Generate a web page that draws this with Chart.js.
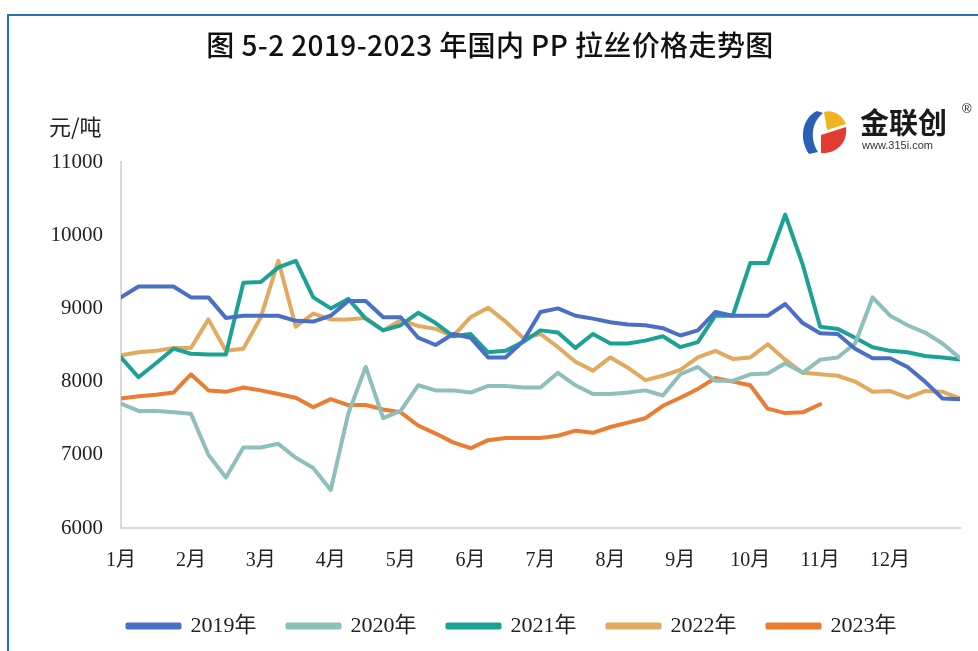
<!DOCTYPE html>
<html lang="zh">
<head>
  <meta charset="UTF-8">
  <title>2019-2023年国内PP拉丝价格走势图</title>
  <script src="https://cdn.jsdelivr.net/npm/chart.js"></script>
  <style>
    html, body {
      margin: 0;
      padding: 0;
      background: #ffffff;
    }

    #wrap {
      position: relative;
      width: 978px;
      height: 651px;
      overflow: hidden;
    }

    /* blue frame on top and left */
    #frame {
      position: absolute;
      left: 7px;
      top: 14px;
      width: 980px;
      height: 660px;
      border-top: 2px solid #1f72bd;
      border-left: 2px solid #1f72bd;
    }

    #title {
      position: absolute;
      left: 0;
      width: 980px;
      top: 24px;
      text-align: center;
      font-family: "Noto Sans CJK SC", sans-serif;
      font-size: 28px;
      font-weight: 500;
      color: #111;
      letter-spacing: 0.4px;
    }

    #unit {
      position: absolute;
      left: 49px;
      top: 109px;
      font-family: "Noto Sans CJK SC", sans-serif;
      font-size: 22px;
      color: #222;
    }

    #logo {
      position: absolute;
      left: 796px;
      top: 104px;
      width: 180px;
      height: 52px;
    }
    #logo svg {
      position: absolute;
      left: 0;
      top: 4px;
    }
    #logo .name {
      position: absolute;
      left: 64px;
      top: -4px;
      font-family: "Noto Sans CJK SC", sans-serif;
      font-weight: 700;
      font-size: 29px;
      color: #1a1a1a;
    }
    #logo .reg {
      position: absolute;
      left: 166px;
      top: -3px;
      font-family: "Liberation Sans", sans-serif;
      font-size: 13px;
      color: #222;
    }
    #logo .url {
      position: absolute;
      left: 66px;
      top: 35px;
      font-family: "Liberation Sans", sans-serif;
      font-size: 11px;
      color: #333;
    }

    canvas {
      position: absolute;
      left: 0;
      top: 0;
    }
  </style>
</head>
<body>
<div id="wrap">
  <div id="frame"></div>
  <!-- canvas is 3px wider than the window so the tick padding doesn't squeeze the plot -->
  <canvas id="myChart" width="981" height="651"></canvas>
  <div id="title">图 5-2 2019-2023 年国内 PP 拉丝价格走势图</div>
  <div id="unit">元/吨</div>
  <div id="logo">
    <svg width="52" height="48" viewBox="0 0 52 48">
      <path d="M21 3 C7 9 2 30 13 46 L22 44 C14 31 15 15 27 5 Z" fill="#2b5fb4"/>
      <path d="M28 4 C36 1 46 6 50 16 L31 22 C30 15 29 10 28 4 Z" fill="#f2b323"/>
      <path d="M25 27 L50 19 C52 34 41 46 25 45 Z" fill="#e23b30"/>
    </svg>
    <div class="name">金联创</div>
    <div class="reg">®</div>
    <div class="url">www.315i.com</div>
  </div>
</div>

<script>
  // month labels on the x axis
  const months = ['1月', '2月', '3月', '4月', '5月', '6月', '7月', '8月', '9月', '10月', '11月', '12月'];

  // values are read about 4 times per month (1st, ~8th, ~16th, ~23rd), last one = year end
  const perMonth = 4;

  const y2019 = [
    9150, 9300, 9300, 9300, 9150, 9150, 8870, 8900, 8900, 8900, 8830, 8820,
    8900, 9100, 9100, 8880, 8880, 8600, 8500, 8650, 8600, 8330, 8330, 8550,
    8950, 9000, 8900, 8860, 8810, 8780, 8770, 8730, 8630, 8700, 8950, 8900,
    8900, 8900, 9060, 8800, 8660, 8650, 8450, 8320, 8320, 8200, 8000, 7770,
    7760
  ];

  const y2020 = [
    7700, 7600, 7600, 7580, 7560, 7000, 6690, 7100, 7100, 7150, 6960, 6820,
    6520, 7560, 8200, 7500, 7600, 7950, 7880, 7880, 7850, 7940, 7940, 7920,
    7920, 8120, 7950, 7830, 7830, 7850, 7880, 7810, 8100, 8200, 8010, 8010,
    8100, 8110, 8250, 8120, 8300, 8330, 8520, 9150, 8900, 8770, 8670, 8520,
    8320
  ];

  const y2021 = [
    8330, 8060, 8250, 8450, 8380, 8370, 8370, 9350, 9360, 9560, 9650, 9150,
    9000, 9130, 8860, 8700, 8770, 8940, 8800, 8620, 8650, 8400, 8420, 8540,
    8700, 8670, 8460, 8650, 8520, 8520, 8560, 8620, 8470, 8540, 8900, 8900,
    9620, 9620, 10280, 9600, 8750, 8720, 8600, 8470, 8420, 8400, 8350, 8330,
    8300
  ];

  const y2022 = [
    8360, 8400, 8420, 8460, 8460, 8850, 8420, 8450, 8880, 9650, 8750, 8930,
    8850, 8850, 8870, 8700, 8840, 8760, 8720, 8620, 8880, 9010, 8820, 8600,
    8650, 8470, 8270, 8150, 8330, 8190, 8020, 8080, 8160, 8330, 8420, 8310,
    8330, 8510, 8300, 8120, 8100, 8080, 8000, 7860, 7870, 7780, 7870, 7860,
    7770
  ];

  // 2023 stops in early November
  const y2023 = [
    7770, 7800, 7820, 7850, 8100, 7880, 7860, 7920, 7880, 7830, 7780, 7650,
    7760, 7680, 7680, 7620, 7580, 7400, 7290, 7170, 7090, 7200, 7230, 7230,
    7230, 7260, 7330, 7300, 7380, 7440, 7500, 7670, 7780, 7900, 8050, 8000,
    7950, 7630, 7570, 7580, 7690
  ];

  const seriesNames = ['2019年', '2020年', '2021年', '2022年', '2023年'];
  const seriesColors = ['#4a6fc6', '#8dbfbb', '#1ba294', '#e2aa5f', '#eb7c33'];
  const seriesValues = [y2019, y2020, y2021, y2022, y2023];

  const toPoints = (arr) => arr.map((v, i) => ({ x: i / perMonth, y: v }));

  const serif = "'Liberation Serif', 'Noto Sans CJK SC', serif";

  // legend sits a bit right of the canvas centre in the original
  const legendShift = {
    id: 'legendShift',
    afterLayout(chart) {
      chart.legend.left += 14;
      chart.legend.right += 14;
    }
  };

  const ctx = document.getElementById('myChart').getContext('2d');
  const chart = new Chart(ctx, {
    type: 'line',
    data: {
      datasets: seriesValues.map((vals, k) => ({
        label: seriesNames[k],
        data: toPoints(vals),
        borderColor: seriesColors[k],
        backgroundColor: seriesColors[k],
        borderWidth: 4,
        pointRadius: 0,
        tension: 0,
        borderJoinStyle: 'round',
        borderCapStyle: 'round'
      }))
    },
    plugins: [legendShift],
    options: {
      responsive: false,
      animation: false,
      layout: {
        padding: { top: 162, left: 36, right: 21, bottom: 4 }
      },
      plugins: {
        title: { display: false },
        tooltip: { enabled: false },
        legend: {
          position: 'bottom',
          labels: {
            boxWidth: 52,
            boxHeight: 3,
            padding: 31,
            color: '#222',
            font: { family: serif, size: 22 }
          }
        }
      },
      scales: {
        x: {
          type: 'linear',
          min: 0,
          max: 12,
          grid: { display: false, drawTicks: false },
          border: { display: true, color: '#d9d9d9', width: 2 },
          ticks: {
            stepSize: 1,
            autoSkip: false,
            maxRotation: 0,
            padding: 21,
            color: '#222',
            font: { family: serif, size: 20 },
            callback: (v) => months[v] || ''
          },
          afterFit: (scale) => { scale.height = 56; }
        },
        y: {
          min: 6000,
          max: 11000,
          grid: { display: false, drawTicks: false },
          border: { display: true, color: '#d9d9d9', width: 2 },
          ticks: {
            stepSize: 1000,
            padding: 18,
            color: '#222',
            font: { family: serif, size: 21 },
            callback: (v) => String(v)
          },
          afterFit: (scale) => { scale.width = 85; }
        }
      }
    }
  });
</script>
</body>
</html>
